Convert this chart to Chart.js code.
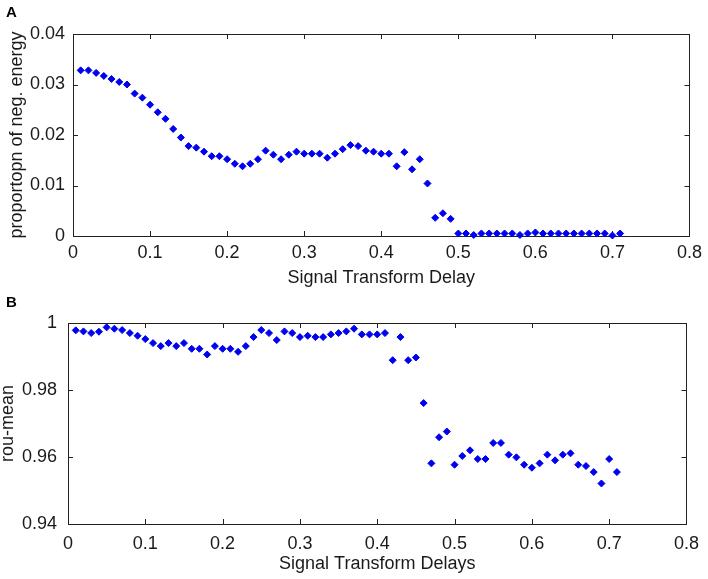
<!DOCTYPE html>
<html>
<head>
<meta charset="utf-8">
<script src="https://cdn.jsdelivr.net/npm/chart.js@4.4.1/dist/chart.umd.min.js"></script>
<style>
  html, body { margin: 0; padding: 0; background: #fff; }
  canvas { display: block; }
</style>
</head>
<body>
<canvas id="chartA" width="708" height="290"></canvas>
<canvas id="chartB" width="708" height="289"></canvas>
<script>
// delays (x) shared by both panels
const delays = [
  0.01, 0.02, 0.03, 0.04, 0.05, 0.06, 0.07, 0.08, 0.09, 0.10,
  0.11, 0.12, 0.13, 0.14, 0.15, 0.16, 0.17, 0.18, 0.19, 0.20,
  0.21, 0.22, 0.23, 0.24, 0.25, 0.26, 0.27, 0.28, 0.29, 0.30,
  0.31, 0.32, 0.33, 0.34, 0.35, 0.36, 0.37, 0.38, 0.39, 0.40,
  0.41, 0.42, 0.43, 0.44, 0.45, 0.46, 0.47, 0.48, 0.49, 0.50,
  0.51, 0.52, 0.53, 0.54, 0.55, 0.56, 0.57, 0.58, 0.59, 0.60,
  0.61, 0.62, 0.63, 0.64, 0.65, 0.66, 0.67, 0.68, 0.69, 0.70, 0.71
];

// panel A: proportion of negative energy
const negEnergy = [
  0.0328, 0.0328, 0.0323, 0.0317, 0.0311, 0.0305, 0.0300, 0.0282, 0.0274, 0.0260,
  0.0245, 0.0232, 0.0212, 0.0195, 0.0178, 0.0175, 0.0167, 0.0158, 0.0158, 0.0152,
  0.0143, 0.0138, 0.0143, 0.0152, 0.0169, 0.0161, 0.0152, 0.0161, 0.0167, 0.0163,
  0.0163, 0.0163, 0.0155, 0.0163, 0.0172, 0.0180, 0.0178, 0.0169, 0.0167, 0.0163,
  0.0163, 0.0138, 0.0166, 0.0132, 0.0152, 0.0104, 0.0036, 0.0045, 0.0034, 0.0005,
  0.0005, 0.0002, 0.0005, 0.0005, 0.0005, 0.0005, 0.0005, 0.0002, 0.0005, 0.0007,
  0.0005, 0.0005, 0.0005, 0.0005, 0.0005, 0.0005, 0.0005, 0.0005, 0.0005, 0.0001, 0.0005
];

// panel B: rou-mean
const rouMean = [
  0.9978, 0.9975, 0.9970, 0.9974, 0.9987, 0.9983, 0.9979, 0.9970, 0.9962, 0.9952,
  0.9940, 0.9931, 0.9940, 0.9931, 0.9940, 0.9923, 0.9923, 0.9906, 0.9931, 0.9923,
  0.9923, 0.9914, 0.9931, 0.9958, 0.9979, 0.9970, 0.9949, 0.9975, 0.9970, 0.9958,
  0.9962, 0.9958, 0.9958, 0.9966, 0.9970, 0.9975, 0.9983, 0.9966, 0.9966, 0.9966,
  0.9970, 0.9889, 0.9958, 0.9889, 0.9897, 0.9761, 0.9581, 0.9659, 0.9676, 0.9577,
  0.9603, 0.9620, 0.9594, 0.9594, 0.9642, 0.9642, 0.9607, 0.9599, 0.9577, 0.9568,
  0.9581, 0.9607, 0.9590, 0.9607, 0.9611, 0.9577, 0.9573, 0.9555, 0.9521, 0.9594, 0.9555
];

// tick values
const xTicks = [0, 0.1, 0.2, 0.3, 0.4, 0.5, 0.6, 0.7, 0.8];
const yTicksA = [0, 0.01, 0.02, 0.03, 0.04];
const yTicksB = [0.94, 0.96, 0.98, 1];

Chart.defaults.font.family = '"Liberation Sans", Arial, sans-serif';
Chart.defaults.font.size = 18;
Chart.defaults.color = '#1a1a1a';

// matlab style box with inward ticks + panel letter
const boxPlugin = {
  id: 'box',
  beforeDatasetsDraw(chart, args, opts) {
    const {ctx, chartArea: a, scales} = chart;
    ctx.save();
    ctx.strokeStyle = '#222';
    ctx.lineWidth = 1;
    ctx.strokeRect(Math.round(a.left) + 0.5, Math.round(a.top) + 0.5,
      Math.round(a.right - a.left), Math.round(a.bottom - a.top));
    const len = 5;
    ctx.beginPath();
    scales.x.ticks.forEach(t => {
      const px = Math.round(scales.x.getPixelForValue(t.value)) + 0.5;
      ctx.moveTo(px, a.bottom); ctx.lineTo(px, a.bottom - len);
      ctx.moveTo(px, a.top); ctx.lineTo(px, a.top + len);
    });
    scales.y.ticks.forEach(t => {
      const py = Math.round(scales.y.getPixelForValue(t.value)) + 0.5;
      ctx.moveTo(a.left, py); ctx.lineTo(a.left + len, py);
      ctx.moveTo(a.right, py); ctx.lineTo(a.right - len, py);
    });
    ctx.stroke();
    ctx.restore();
  },
  afterDraw(chart, args, opts) {
    const ctx = chart.ctx;
    ctx.save();
    ctx.font = 'bold 15px "Liberation Sans", Arial, sans-serif';
    ctx.fillStyle = '#000';
    ctx.textBaseline = 'top';
    ctx.fillText(opts.letter, opts.lx, opts.ly);
    ctx.restore();
  }
};

function fmt(v) { return String(+v.toFixed(3)); }

function makeChart(id, yData, yTicks, yMin, yMax, cfg) {
  return new Chart(document.getElementById(id), {
    type: 'scatter',
    data: {
      datasets: [{
        data: delays.map((d, i) => ({x: d, y: yData[i]})),
        backgroundColor: '#0000f0',
        borderColor: '#0000f0',
        borderWidth: 1,
        pointStyle: 'rectRot',
        pointRadius: 3.5,
        clip: false
      }]
    },
    options: {
      responsive: false,
      animation: false,
      layout: {padding: {left: 0, top: cfg.top, right: cfg.right, bottom: 0}},
      plugins: {
        legend: {display: false},
        tooltip: {enabled: false},
        box: {letter: cfg.letter, lx: 6, ly: cfg.ly}
      },
      scales: {
        x: {
          type: 'linear',
          min: 0, max: 0.8,
          grid: {display: false, drawTicks: false},
          border: {display: false},
          afterBuildTicks: s => { s.ticks = xTicks.map(v => ({value: v})); },
          afterFit: s => { s.height = cfg.xh; },
          ticks: {padding: cfg.xpad, maxRotation: 0, autoSkip: false, callback: fmt},
          title: {display: true, text: cfg.xTitle, color: '#1a1a1a', padding: {top: 0, bottom: cfg.xtb}}
        },
        y: {
          min: yMin, max: yMax,
          grid: {display: false, drawTicks: false},
          border: {display: false},
          afterBuildTicks: s => { s.ticks = yTicks.map(v => ({value: v})); },
          afterFit: s => { s.width = cfg.yw; },
          ticks: {padding: cfg.ypad, callback: fmt},
          title: {display: true, text: cfg.yTitle, color: '#1a1a1a', padding: {top: cfg.ytp, bottom: 0}}
        }
      }
    },
    plugins: [boxPlugin]
  });
}

makeChart('chartA', negEnergy, yTicksA, 0, 0.04, {
  letter: 'A', ly: 5, top: 34, right: 13, xh: 54, yw: 73, xpad: 6, ypad: 8, ytp: 6, xtb: 1,
  xTitle: 'Signal Transform Delay', yTitle: 'proportopn of neg. energy'
});
makeChart('chartB', rouMean, yTicksB, 0.94, 1, {
  letter: 'B', ly: 5, top: 33, right: 18, xh: 55, yw: 68, xpad: 9, ypad: 11, ytp: -3, xtb: 4,
  xTitle: 'Signal Transform Delays', yTitle: 'rou-mean'
});
</script>
</body>
</html>
